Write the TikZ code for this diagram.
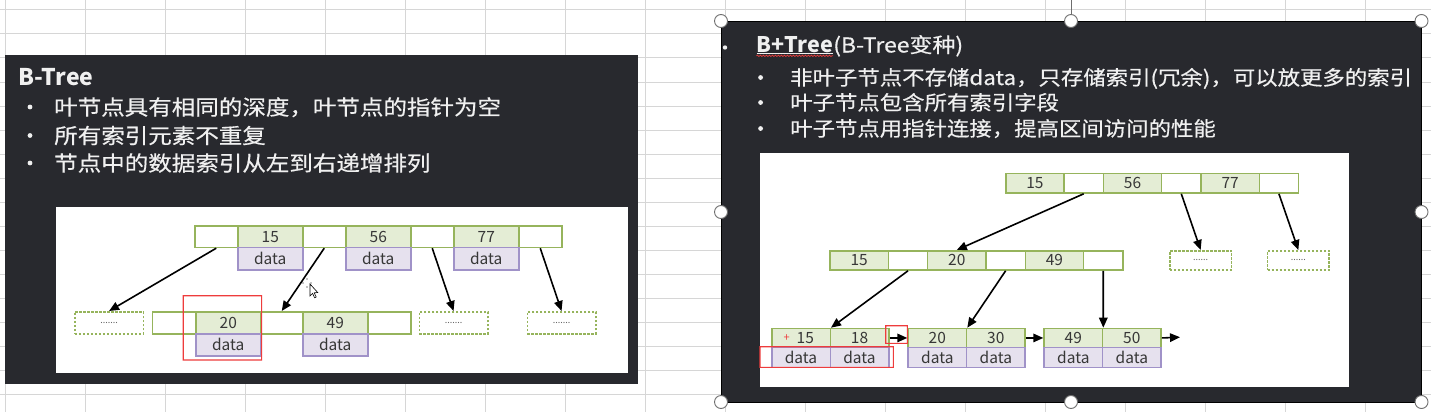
\documentclass[tikz,border=0pt]{standalone}
\usepackage{fontspec}
\setmainfont{Noto Sans CJK SC}
\newfontfamily\cjkL[FakeStretch=1.12,FakeBold=0.5]{Noto Sans CJK SC}
\usetikzlibrary{arrows.meta,decorations.pathmorphing}
\definecolor{gridc}{RGB}{214,214,214}
\definecolor{panel}{RGB}{40,41,46}
\definecolor{bgreen}{RGB}{150,180,92}
\definecolor{kfill}{RGB}{228,237,213}
\definecolor{dfill}{RGB}{230,225,238}
\definecolor{dbord}{RGB}{160,146,200}
\definecolor{txt}{RGB}{55,55,55}
\definecolor{redc}{RGB}{238,60,60}
\definecolor{handlec}{RGB}{110,110,110}
\definecolor{wtxt}{RGB}{240,240,240}
\newcommand\redframe[4]{\fill[redc, even odd rule] ({#1-0.55},{#2-0.55}) rectangle ({#3+0.55},{#4+0.55}) ({#1+0.55},{#2+0.55}) rectangle ({#3-0.55},{#4-0.55});}
\begin{document}
\begin{tikzpicture}[x=1pt,y=-1pt,
  cell/.style={anchor=north west, inner sep=0pt, line width=1.5pt, text=txt, font=\fontsize{15.5}{15.5}\selectfont},
  key/.style={cell, draw=bgreen, fill=kfill},
  ptr/.style={cell, draw=bgreen, fill=white},
  dat/.style={cell, draw=dbord, fill=dfill},
  dbox/.style={cell, draw=bgreen, fill=white, dash pattern=on 2.5pt off 1.5pt, line width=1.6pt, text=txt!80, font=\fontsize{9}{9}\selectfont},
  arr/.style={line width=1.6pt, -{Triangle[length=10pt,width=8.5pt]}},
  ltxt/.style={anchor=base west, inner sep=0pt, text=wtxt, font=\cjkL\fontsize{21}{21}\selectfont},
  rtxt/.style={anchor=base west, inner sep=0pt, text=wtxt, font=\cjkL\fontsize{20}{20}\selectfont},
  hdl/.style={draw=handlec, fill=white, line width=0.9pt}
]
\useasboundingbox (0,0) rectangle (1431,412);
\fill[white] (0,0) rectangle (1431,412);
% spreadsheet grid
\foreach \k in {0,...,17} \draw[gridc, line width=1pt] ({5+80*\k},0) -- ({5+80*\k},412);
\foreach \k in {0,...,16} \draw[gridc, line width=1pt] (0,{10+24*\k}) -- (1431,{10+24*\k});

% ================= left panel =================
\fill[panel] (5,55) rectangle (638,383.5);
\node[anchor=base west, inner sep=0pt, text=wtxt, font=\bfseries\fontsize{23}{23}\selectfont] (LH) at (18.5,85) {B-Tree};
\foreach \yy in {107,135.5,163} \fill[wtxt] (30,\yy) circle (2.4pt);
\node[ltxt] (L1) at (54,115) {叶节点具有相同的深度，叶节点的指针为空};
\node[ltxt] (L2) at (54,143.5) {所有索引元素不重复};
\node[ltxt] (L3) at (54,171) {节点中的数据索引从左到右递增排列};
\fill[white] (56,207) rectangle (628,372.5);

% root
\node[ptr, minimum width=43pt, minimum height=21.7pt] (Lp0) at (194,225) {};
\node[key, minimum width=65pt, minimum height=21.7pt] (Lk15) at (237,225) {15};
\node[ptr, minimum width=43pt, minimum height=21.7pt] (Lp1) at (302,225) {};
\node[key, minimum width=65pt, minimum height=21.7pt] (Lk56) at (345,225) {56};
\node[ptr, minimum width=43pt, minimum height=21.7pt] (Lp2) at (410,225) {};
\node[key, minimum width=65pt, minimum height=21.7pt] (Lk77) at (453,225) {77};
\node[ptr, minimum width=43pt, minimum height=21.7pt] (Lp3) at (518,225) {};
\node[dat, minimum width=65pt, minimum height=22.3pt] (Ld15) at (237,246.7) {data};
\node[dat, minimum width=65pt, minimum height=22.3pt] (Ld56) at (345,246.7) {data};
\node[dat, minimum width=65pt, minimum height=22.3pt] (Ld77) at (453,246.7) {data};
% second level
\node[ptr, minimum width=43.5pt, minimum height=22.3pt] (Ls0) at (151.5,311) {};
\node[key, minimum width=65pt, minimum height=22.3pt] (Lk20) at (195,311) {20};
\node[ptr, minimum width=42pt, minimum height=22.3pt] (Ls1) at (260,311) {};
\node[key, minimum width=65pt, minimum height=22.3pt] (Lk49) at (302,311) {49};
\node[ptr, minimum width=43pt, minimum height=22.3pt] (Ls2) at (367,311) {};
\node[dat, minimum width=65pt, minimum height=21.7pt] (Ld20) at (195,333.3) {data};
\node[dat, minimum width=65pt, minimum height=21.7pt] (Ld49) at (302,333.3) {data};
% dashed boxes
\node[dbox, minimum width=68.5pt, minimum height=22pt] (LD1) at (74,311) {.......};
\node[dbox, minimum width=68.5pt, minimum height=22pt] (LD2) at (418.5,311) {.......};
\node[dbox, minimum width=68.5pt, minimum height=22pt] (LD3) at (526.5,311) {.......};
% arrows
\draw[arr] (Lp0.south) -- (LD1.north);
\draw[arr] (Lp1.south) -- (Ls1.north);
\draw[arr] (Lp2.south) -- (LD2.north);
\draw[arr] (Lp3.south) -- (LD3.north);
\redframe{183.2}{295.7}{261.6}{360}
% cursor
\draw[black, line width=0.6pt, fill=white] (310,284) -- (310,296) -- (312.6,293.4) -- (314.6,297.8) -- (316.2,297) -- (314.2,292.8) -- (317.8,292.6) -- cycle;
\foreach \dx/\dy in {0/-4,0/4,-4/0,4/0} \fill[black] ({307+\dx},{283+\dy}) circle (0.7pt);

% ================= right panel =================
\fill[panel] (721,21) rectangle (1421.5,402);
\draw[black, line width=0.8pt] (721,21) rectangle (1421.5,402);
\fill[wtxt] (725,47.5) circle (2.2pt);
\node[anchor=base west, inner sep=0pt, text=wtxt, font=\bfseries\fontsize{21.5}{21.5}\selectfont] (RHb) at (756.5,52.5) {B+Tree};
\node[anchor=base west, inner sep=0pt, text=wtxt, font=\cjkL\fontsize{20.5}{20.5}\selectfont] (RHr) at (RHb.base east) {(B-Tree变种)};
\draw[wtxt, line width=1pt] ([yshift=-1.5pt]RHb.base west) -- ([yshift=-1.5pt]RHb.base east);
\draw[redc, line width=0.7pt, decorate, decoration={snake, amplitude=0.7pt, segment length=3pt}] ([yshift=-3.3pt]RHb.base west) -- ([yshift=-3.3pt]RHb.base east);
\foreach \yy in {77.5,102.5,128.5} \fill[wtxt] (760.6,\yy) circle (2.4pt);
\node[rtxt] (R1) at (790,85) {非叶子节点不存储data，只存储索引(冗余)，可以放更多的索引};
\node[rtxt] (R2) at (790,110) {叶子节点包含所有索引字段};
\node[rtxt] (R3) at (790,136) {叶子节点用指针连接，提高区间访问的性能};
\fill[white] (760,153.3) rectangle (1349,387.3);

% root
\node[key, minimum width=58.3pt, minimum height=19.6pt] (Rk15) at (1005,172.7) {15};
\node[ptr, minimum width=39.3pt, minimum height=19.6pt] (Rp1) at (1063.3,172.7) {};
\node[key, minimum width=58.3pt, minimum height=19.6pt] (Rk56) at (1102.6,172.7) {56};
\node[ptr, minimum width=39.3pt, minimum height=19.6pt] (Rp2) at (1160.9,172.7) {};
\node[key, minimum width=58.3pt, minimum height=19.6pt] (Rk77) at (1200.2,172.7) {77};
\node[ptr, minimum width=39.3pt, minimum height=19.6pt] (Rp3) at (1258.5,172.7) {};
% second level
\node[key, minimum width=58.3pt, minimum height=19.3pt] (Rs15) at (829.3,250) {15};
\node[ptr, minimum width=39.3pt, minimum height=19.3pt] (Rq1) at (887.6,250) {};
\node[key, minimum width=58.3pt, minimum height=19.3pt] (Rs20) at (926.9,250) {20};
\node[ptr, minimum width=39.3pt, minimum height=19.3pt] (Rq2) at (985.2,250) {};
\node[key, minimum width=58.3pt, minimum height=19.3pt] (Rs49) at (1024.5,250) {49};
\node[ptr, minimum width=39.3pt, minimum height=19.3pt] (Rq3) at (1082.8,250) {};
% dashed
\node[dbox, minimum width=61.7pt, minimum height=19.3pt] (RD1) at (1169,250) {......};
\node[dbox, minimum width=61.7pt, minimum height=19.3pt] (RD2) at (1266.7,250) {......};
% leaves
\node[key, minimum width=58.5pt, minimum height=19pt] (Ra1) at (771,327.7) {\phantom{+}15};
\node[key, minimum width=58.5pt, minimum height=19pt] (Rb1) at (829.5,327.7) {18};
\node[dat, minimum width=58.5pt, minimum height=20pt] (Rc1) at (771,346.7) {data};
\node[dat, minimum width=58.5pt, minimum height=20pt] (Re1) at (829.5,346.7) {data};
\node[key, minimum width=58.5pt, minimum height=19pt] (Ra2) at (907.3,327.7) {20};
\node[key, minimum width=58.5pt, minimum height=19pt] (Rb2) at (965.8,327.7) {30};
\node[dat, minimum width=58.5pt, minimum height=20pt] (Rc2) at (907.3,346.7) {data};
\node[dat, minimum width=58.5pt, minimum height=20pt] (Re2) at (965.8,346.7) {data};
\node[key, minimum width=58.5pt, minimum height=19pt] (Ra3) at (1043.3,327.7) {49};
\node[key, minimum width=58.5pt, minimum height=19pt] (Rb3) at (1101.8,327.7) {50};
\node[dat, minimum width=58.5pt, minimum height=20pt] (Rc3) at (1043.3,346.7) {data};
\node[dat, minimum width=58.5pt, minimum height=20pt] (Re3) at (1101.8,346.7) {data};
\node[inner sep=0pt, text=redc, font=\fontsize{11}{11}\selectfont] (Rplus) at (786.7,338) {+};
\coordinate (Rend) at (1180,337.2);
% arrows
\draw[arr] (Rp1.south) -- (Rs20.north);
\draw[arr] (Rp2.south) -- (RD1.north);
\draw[arr] (Rp3.south) -- (RD2.north);
\draw[arr] (Rq1.south) -- (Ra1.north east);
\draw[arr] (Rq2.south) -- (Ra2.north east);
\draw[arr] (Rq3.south) -- (Ra3.north east);
\draw[arr] (Rb1.east) -- (Ra2.west);
\draw[arr] (Rb2.east) -- (Ra3.west);
\draw[arr] (Rb3.east) -- (Rend);
\redframe{885.7}{325.7}{907.3}{343.3}
\redframe{760}{346.7}{893.3}{367.3}

% selection handles
\draw[handlec, line width=0.9pt] (1071,0) -- (1071,14.5);
\foreach \hx/\hy in {721/21,1071/21,1421.5/21,721/212,1421.5/212,721/402,1071/402,1421.5/402}
  \draw[hdl] (\hx,\hy) circle (6.5pt);
\end{tikzpicture}
\end{document}
